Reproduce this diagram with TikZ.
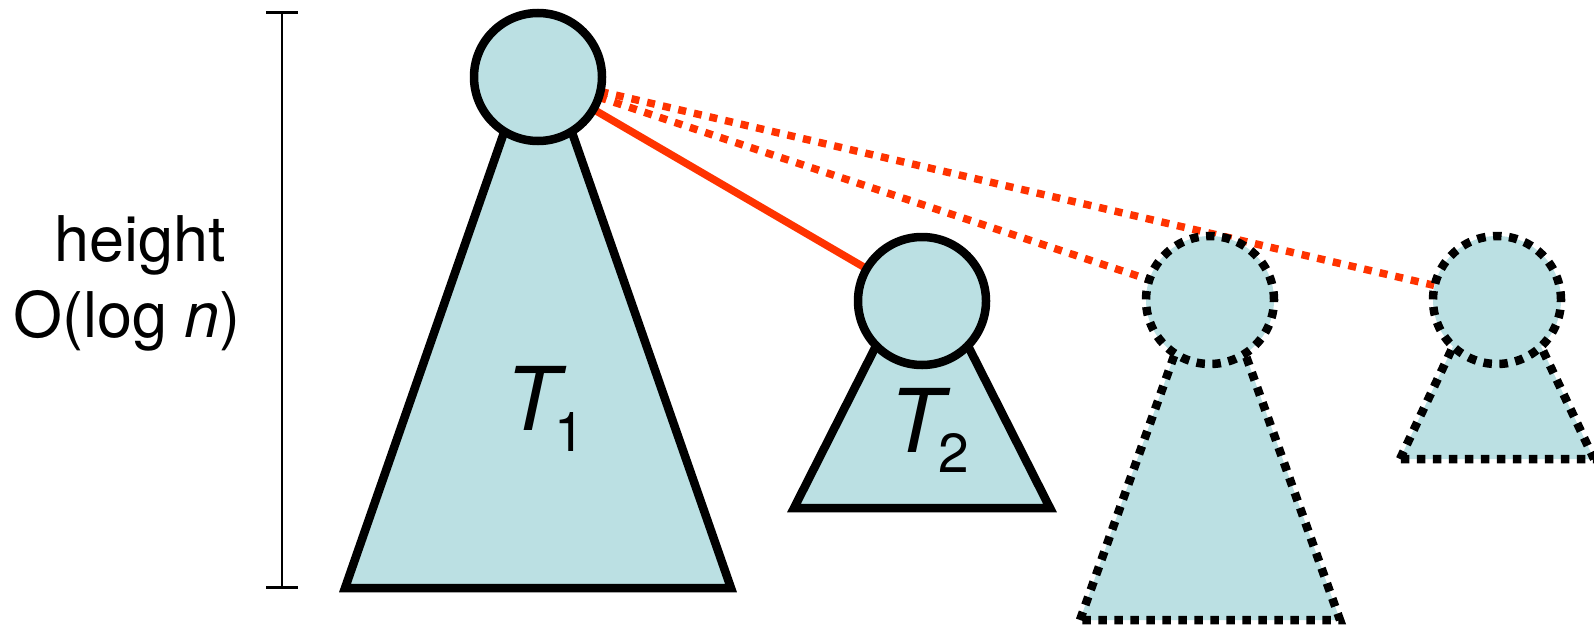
\documentclass[tikz,border=0pt]{standalone}
\usepackage{fontspec}
\setmainfont{TeX Gyre Heros}
\definecolor{treefill}{HTML}{BBE0E3}
\definecolor{linkred}{HTML}{FF3300}
\begin{document}
\begin{tikzpicture}[x=1pt,y=1pt,
  solidtree/.style={draw=black,fill=treefill,line width=8.5pt},
  dottree/.style={draw=black,fill=treefill,line width=8.5pt,dash pattern=on 8.5pt off 7.5pt},
  rootnode/.style={circle,inner sep=0pt,minimum size=128pt},
  redsolid/.style={draw=linkred,line width=7.5pt},
  reddot/.style={draw=linkred,line width=7.5pt,dash pattern=on 8pt off 8pt},
  treelabel/.style={inner sep=0pt,anchor=base west},
  sidetext/.style={inner sep=0pt,anchor=base,font=\fontsize{63}{63}\selectfont}
]
\useasboundingbox (0,0) rectangle (1594,-626);

% bracket
\coordinate (btop) at (282,-12.7);
\coordinate (bbot) at (282,-587.5);
\draw[line width=2.5pt] (btop) -- (bbot);
\draw[line width=2.5pt] ([xshift=-16pt]btop) -- ([xshift=16pt]btop);
\draw[line width=2.5pt] ([xshift=-16pt]bbot) -- ([xshift=16pt]bbot);
\node[sidetext] (h1) at (140,-261) {height};
\node[sidetext] (h2) at (127,-337) {O(log \textit{n})};

% subtrees
\path[solidtree] (345,-588) -- (538,-35) -- (731,-588) -- cycle;
\path[solidtree] (794,-508) -- (922,-255) -- (1050,-508) -- cycle;
\path[dottree] (1080,-620) -- (1210,-255) -- (1340,-620) -- cycle;
\path[dottree] (1400,-459) -- (1497,-253) -- (1594,-459) -- cycle;

% roots (coordinates for the links)
\coordinate (c1) at (538,-77);
\coordinate (c2) at (922,-301);
\coordinate (c3) at (1210,-300);
\coordinate (c4) at (1497,-300);

% links
\draw[redsolid] (c1) -- (c2);
\draw[reddot] (c1) -- (c3);
\draw[reddot] (c1) -- (c4);

\node[rootnode,solidtree] (r1) at (c1) {};
\node[rootnode,solidtree] (r2) at (c2) {};
\node[rootnode,dottree] (r3) at (c3) {};
\node[rootnode,dottree] (r4) at (c4) {};

% labels
\node[treelabel] (t1) at (505,-430) {\fontsize{88}{88}\selectfont\textit{T}\kern-12pt\raisebox{-21pt}{\fontsize{55}{55}\selectfont 1}};
\node[treelabel] (t2) at (889,-452) {\fontsize{88}{88}\selectfont\textit{T}\kern-12pt\raisebox{-20pt}{\fontsize{55}{55}\selectfont 2}};
\end{tikzpicture}
\end{document}
